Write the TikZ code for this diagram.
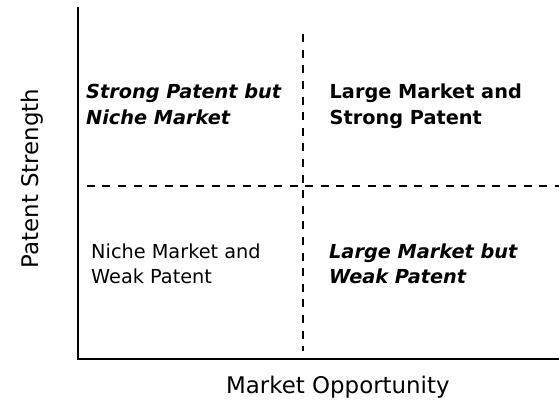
\documentclass[tikz,border=0pt]{standalone}
\usepackage{fontspec}
\setmainfont{DejaVu Sans}
\begin{document}
\begin{tikzpicture}[x=1pt,y=1pt,
  axisline/.style={line width=2pt,black},
  divline/.style={line width=2pt,black,dash pattern=on 8pt off 7.6pt},
  quad/.style={inner sep=0pt,anchor=base west,align=left,font=\fontsize{19.3}{25.5}\selectfont},
  axislabel/.style={inner sep=0pt,anchor=base,font=\fontsize{22.9}{27}\selectfont}]
\useasboundingbox (0,0) rectangle (559,401);
\coordinate (T) at (77.7,394);
\coordinate (O) at (77.7,41.7);
\coordinate (R) at (559,41.7);
\coordinate (HL) at (86.7,215.3);
\coordinate (HR) at (559,215.3);
\coordinate (VT) at (303.3,366.7);
\coordinate (VB) at (303.3,50.3);
\draw[axisline] (T) -- (O) -- (R);
\draw[divline] (HL) -- (HR);
\draw[divline] (VT) -- (VB);
\node[quad,font=\fontsize{19.3}{25.5}\selectfont\bfseries\itshape] (tl) at (86,276.5) {Strong Patent but\\Niche Market};
\node[quad,font=\fontsize{19.3}{25.5}\selectfont\bfseries] (tr) at (329.5,276.5) {Large Market and\\Strong Patent};
\node[quad] (bl) at (91,117) {Niche Market and\\Weak Patent};
\node[quad,font=\fontsize{19.3}{25.5}\selectfont\bfseries\itshape] (br) at (329,117) {Large Market but\\Weak Patent};
\node[axislabel] (xl) at (337.9,7.7) {Market Opportunity};
\node[axislabel,rotate=90] (yl) at (38,222.5) {Patent Strength};
\end{tikzpicture}
\end{document}
